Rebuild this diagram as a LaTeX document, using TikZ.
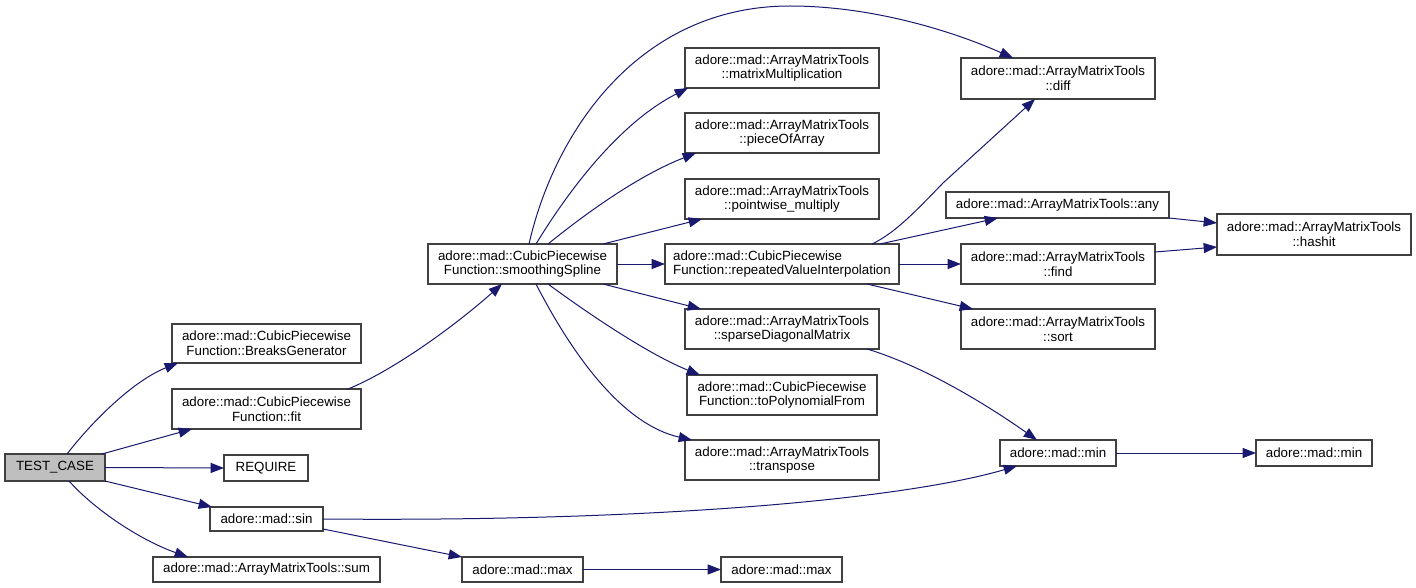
\documentclass[tikz,border=0pt]{standalone}
\usepackage{fontspec}
\setmainfont{Liberation Sans}
\usetikzlibrary{arrows.meta,calc}
\definecolor{edgecol}{HTML}{191970}
\definecolor{boxcol}{HTML}{404040}
\definecolor{grayfill}{HTML}{BFBFBF}
\newcommand\bx[7][]{\node[box,#1,minimum width={(#4-#2)*0.75pt},minimum height={(#5-#3)*0.75pt}] (#6) at ({(#2+#4)/2},{(#3+#5)/2}) {#7};}
\begin{document}
\begin{tikzpicture}[x=0.75pt,y=-0.75pt,
  box/.style={draw=boxcol,line width=0.9pt,fill=white,inner sep=0pt,outer sep=0pt,align=center,font=\fontsize{10}{11}\selectfont},
  edge/.style={draw=edgecol,line width=0.75pt,-{Triangle[length=10pt,width=7.5pt]}}]
\useasboundingbox (0,0) rectangle (1416,588);
\bx[fill=grayfill]{5}{454}{105}{481}{tc}{TEST\_CASE}
\bx{172}{324}{361}{363}{bg}{adore::mad::CubicPiecewise\\Function::BreaksGenerator}
\bx{172}{389}{361}{429}{fit}{adore::mad::CubicPiecewise\\Function::fit}
\bx{224}{455}{308}{481}{req}{REQUIRE}
\bx{210}{507}{323}{531}{sin}{adore::mad::sin}
\bx{153}{557}{380}{582}{sum}{adore::mad::ArrayMatrixTools::sum}
\bx{428}{244}{617}{284}{ss}{adore::mad::CubicPiecewise\\Function::smoothingSpline}
\bx{685}{48}{879}{88}{mm}{adore::mad::ArrayMatrixTools\\::matrixMultiplication}
\bx{685}{113}{879}{153}{poa}{adore::mad::ArrayMatrixTools\\::pieceOfArray}
\bx{685}{179}{879}{219}{pm}{adore::mad::ArrayMatrixTools\\::pointwise\_multiply}
\bx[align=left]{665}{244}{899}{284}{rvi}{adore::mad::CubicPiecewise\\Function::repeatedValueInterpolation}
\bx{685}{309}{879}{349}{sdm}{adore::mad::ArrayMatrixTools\\::sparseDiagonalMatrix}
\bx{687}{375}{877}{415}{tpf}{adore::mad::CubicPiecewise\\Function::toPolynomialFrom}
\bx{685}{440}{879}{480}{tr}{adore::mad::ArrayMatrixTools\\::transpose}
\bx{462}{557}{583}{582}{maxa}{adore::mad::max}
\bx{721}{557}{842}{582}{maxb}{adore::mad::max}
\bx{961}{58}{1155}{99}{diff}{adore::mad::ArrayMatrixTools\\::diff}
\bx{946}{192}{1169}{218}{any}{adore::mad::ArrayMatrixTools::any}
\bx{961}{244}{1155}{284}{find}{adore::mad::ArrayMatrixTools\\::find}
\bx{1217}{214}{1411}{255}{hash}{adore::mad::ArrayMatrixTools\\::hashit}
\bx{961}{309}{1155}{349}{sort}{adore::mad::ArrayMatrixTools\\::sort}
\bx{1000}{440}{1116}{466}{mina}{adore::mad::min}
\bx{1256}{440}{1372}{466}{minb}{adore::mad::min}
% edges from TEST_CASE
\draw[edge] ($(tc.north west)+(62,0)$) .. controls (95,418) and (135,380) .. ($(bg.south west)+(6,0)$);
\draw[edge] ($(tc.north west)+(97,0)$) -- ($(fit.south west)+(20,0)$);
\draw[edge] (tc.east) -- (req.west);
\draw[edge] (tc.south east) -- ($(sin.north west)+(2,0)$);
\draw[edge] ($(tc.south west)+(64,0)$) .. controls (95,510) and (140,540) .. ($(sum.north west)+(35,0)$);
% fit, sin, max
\draw[edge] ($(fit.north west)+(176,0)$) .. controls (390,372) and (450,330) .. ($(ss.south west)+(74,0)$);
\draw[edge] (sin.east) .. controls (650,522) and (900,500) .. ($(mina.south west)+(17,0)$);
\draw[edge] ($(sin.south east)+(0,-2)$) -- (maxa.north west);
\draw[edge] (maxa.east) -- (maxb.west);
% smoothingSpline
\draw[edge] ($(ss.north west)+(101,0)$) .. controls (555,130) and (640,6) .. (790,6) .. controls (870,6) and (950,30) .. ($(diff.north west)+(52,0)$);
\draw[edge] ($(ss.north west)+(108,0)$) .. controls (575,180) and (625,120) .. ($(mm.south west)+(3,0)$);
\draw[edge] ($(ss.north west)+(120,0)$) .. controls (590,210) and (640,175) .. ($(poa.south west)+(11,0)$);
\draw[edge] ($(ss.north west)+(175,0)$) -- ($(pm.south west)+(17,0)$);
\draw[edge] (ss.east) -- (rvi.west);
\draw[edge] ($(ss.south west)+(175,0)$) -- ($(sdm.north west)+(16,0)$);
\draw[edge] ($(ss.south west)+(120,0)$) .. controls (590,315) and (650,355) .. ($(tpf.north west)+(13,0)$);
\draw[edge] ($(ss.south west)+(108,0)$) .. controls (575,360) and (625,425) .. ($(tr.north west)+(7,0)$);
% repeatedValueInterpolation
\draw[edge] ($(rvi.north west)+(207,0)$) .. controls (895,233) and (915,212) .. (943,183) -- ($(diff.south west)+(74,0)$);
\draw[edge] ($(rvi.north west)+(215,0)$) -- ($(any.south west)+(52,0)$);
\draw[edge] (rvi.east) -- (find.west);
\draw[edge] ($(rvi.south west)+(202,0)$) -- ($(sort.north west)+(12,0)$);
\draw[edge] (any.south east) -- ($(hash.north west)+(0,9)$);
\draw[edge] ($(find.north east)+(0,8)$) -- ($(hash.north west)+(0,33)$);
% sparseDiagonalMatrix, min
\draw[edge] ($(sdm.south east)+(-12,0)$) .. controls (920,365) and (980,400) .. ($(mina.north west)+(37,0)$);
\draw[edge] (mina.east) -- (minb.west);
\end{tikzpicture}
\end{document}
